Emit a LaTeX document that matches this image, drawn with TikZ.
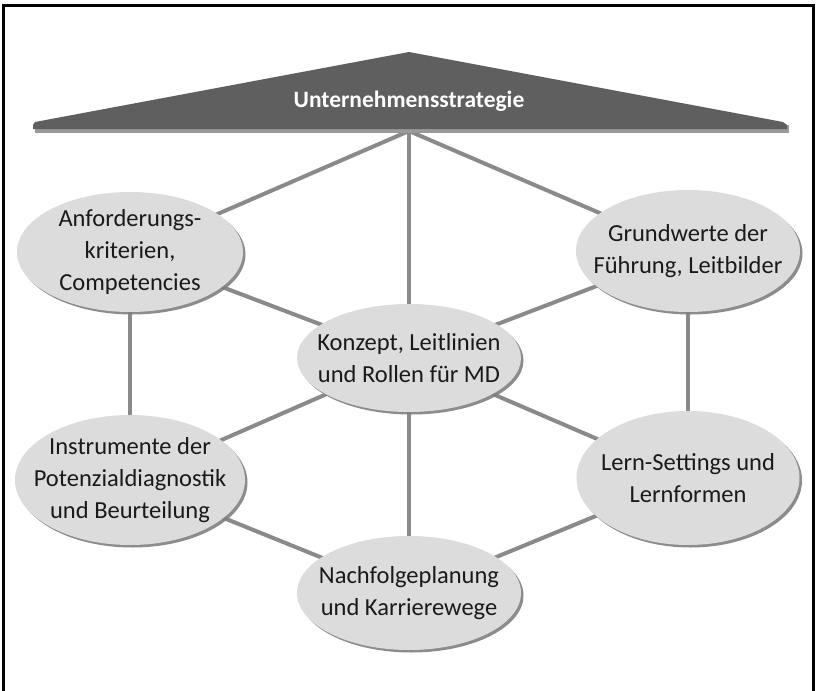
\documentclass[tikz,border=0pt]{standalone}
\usepackage{fontspec}
\setmainfont{Carlito}
\usetikzlibrary{shapes.geometric,shadows}
\pgfdeclarelayer{back}
\pgfdeclarelayer{bg}
\pgfsetlayers{back,bg,main}
\definecolor{roofgray}{HTML}{5F5F5F}
\definecolor{roofshadow}{HTML}{9A9A9A}
\definecolor{bubfill}{HTML}{DCDCDC}
\definecolor{linkgray}{HTML}{8A8A8A}
\definecolor{txt}{HTML}{1A1A1A}
\begin{document}
\begin{tikzpicture}[x=1pt,y=-1pt,
  bub/.style={ellipse, fill=bubfill, draw=none, inner sep=-60pt, align=center,
    text=txt, font=\fontsize{24.5}{32}\selectfont,
    drop shadow={shadow xshift=2.5pt, shadow yshift=-2.5pt, fill=black!50, opacity=0.9}},
  link/.style={draw=linkgray, line width=4pt},
  frame/.style={draw=black, line width=3pt}
]
\useasboundingbox (0,0) rectangle (817,691);
\begin{pgfonlayer}{back}
\fill[white] (0,0) rectangle (817,691);
\end{pgfonlayer}
\draw[frame] (3,693) -- (3,5) -- (813,5) -- (813,693);

% roof
\fill[roofshadow] (35,125) -- (789,125) -- (789,133) -- (35,133) -- cycle;
\fill[roofgray] (35,122) -- (409,52) -- (783,122) -- (787,125) -- (787,129) -- (33,129) -- (33,125) -- cycle;
\node[text=white, font=\fontsize{23.5}{28}\selectfont\bfseries] (roof) at (409,101) {Unternehmensstrategie};
\coordinate (rb) at (409,131);

% bubbles
\node[bub, minimum width=226pt, minimum height=120pt] (anf) at (130,252) {Anforderungs-\\kriterien,\\Competencies};
\node[bub, minimum width=224pt, minimum height=122pt] (gru) at (688,251) {Grundwerte der\\Führung, Leitbilder};
\node[bub, minimum width=224pt, minimum height=108pt] (kon) at (409,358) {Konzept, Leitlinien\\und Rollen für MD};
\node[bub, minimum width=230pt, minimum height=130pt] (ins) at (130,480) {Instrumente der\\Potenzialdiagnostik\\und Beurteilung};
\node[bub, minimum width=223pt, minimum height=134pt] (ler) at (688,478) {Lern-Settings und\\Lernformen};
\node[bub, minimum width=224pt, minimum height=114pt] (nac) at (409,593) {Nachfolgeplanung\\und Karrierewege};

\begin{pgfonlayer}{bg}
\draw[link] (rb) -- (anf.center);
\draw[link] (rb) -- (kon.center);
\draw[link] (rb) -- (gru.center);
\draw[link] (anf.center) -- (kon.center);
\draw[link] (gru.center) -- (kon.center);
\draw[link] (anf.center) -- (ins.center);
\draw[link] (gru.center) -- (ler.center);
\draw[link] (kon.center) -- (ins.center);
\draw[link] (kon.center) -- (ler.center);
\draw[link] (kon.center) -- (nac.center);
\draw[link] (ins.center) -- (nac.center);
\draw[link] (ler.center) -- (nac.center);
\end{pgfonlayer}
\end{tikzpicture}
\end{document}
